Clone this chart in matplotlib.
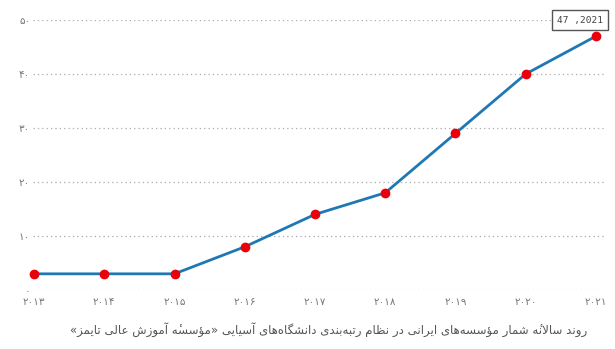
import matplotlib
matplotlib.use("Agg")
import matplotlib.pyplot as plt

# data
years = [2013, 2014, 2015, 2016, 2017, 2018, 2019, 2020, 2021]
counts = [3, 3, 3, 8, 14, 18, 29, 40, 47]
y_ticks = [0, 10, 20, 30, 40, 50]
caption = "روند سالانۀ شمار مؤسسه‌های ایرانی در نظام رتبه‌بندی دانشگاه‌های آسیایی «مؤسسۀ آموزش عالی تایمز»"
last_label = "47 ,2021"

# presentation forms: isolated, final, initial, medial
FORMS = {
    "ا": ("\uFE8D", "\uFE8E", None, None),
    "آ": ("\uFE81", "\uFE82", None, None),
    "د": ("\uFEA9", "\uFEAA", None, None),
    "ر": ("\uFEAD", "\uFEAE", None, None),
    "ز": ("\uFEAF", "\uFEB0", None, None),
    "و": ("\uFEED", "\uFEEE", None, None),
    "ؤ": ("\uFE85", "\uFE86", None, None),
    "ۀ": ("\uFEE9\u0654", "\uFEEA\u0654", None, None),  # heh + hamza above
    "ب": ("\uFE8F", "\uFE90", "\uFE91", "\uFE92"),
    "ت": ("\uFE95", "\uFE96", "\uFE97", "\uFE98"),
    "س": ("\uFEB1", "\uFEB2", "\uFEB3", "\uFEB4"),
    "ش": ("\uFEB5", "\uFEB6", "\uFEB7", "\uFEB8"),
    "ظ": ("\uFEC5", "\uFEC6", "\uFEC7", "\uFEC8"),
    "ع": ("\uFEC9", "\uFECA", "\uFECB", "\uFECC"),
    "ل": ("\uFEDD", "\uFEDE", "\uFEDF", "\uFEE0"),
    "م": ("\uFEE1", "\uFEE2", "\uFEE3", "\uFEE4"),
    "ن": ("\uFEE5", "\uFEE6", "\uFEE7", "\uFEE8"),
    "ه": ("\uFEE9", "\uFEEA", "\uFEEB", "\uFEEC"),
    "ی": ("\uFBFC", "\uFBFD", "\uFBFE", "\uFBFF"),
    "گ": ("\uFB92", "\uFB93", "\uFB94", "\uFB95"),
}
LAM_ALEF = {"ا": ("\uFEFB", "\uFEFC"), "آ": ("\uFEF5", "\uFEF6")}
MIRROR = {"«": "»", "»": "«"}


def dual(c):
    return c in FORMS and FORMS[c][2] is not None


def shape(text):
    # join letters, then reverse for right-to-left display
    out = []
    i = 0
    n = len(text)
    while i < n:
        c = text[i]
        if c not in FORMS:
            if c != "\u200c":
                out.append(MIRROR.get(c, c))
            i += 1
            continue
        prev = text[i - 1] if i > 0 else ""
        join_prev = dual(prev)
        if c == "ل" and i + 1 < n and text[i + 1] in LAM_ALEF:
            out.append(LAM_ALEF[text[i + 1]][1 if join_prev else 0])
            i += 2
            continue
        nxt = text[i + 1] if i + 1 < n else ""
        join_next = dual(c) and nxt in FORMS
        iso, fin, ini, med = FORMS[c]
        if join_prev and join_next:
            out.append(med)
        elif join_prev:
            out.append(fin)
        elif join_next:
            out.append(ini)
        else:
            out.append(iso)
        i += 1
    return "".join(reversed(out))


def fa_digits(s):
    return str(s).translate(str.maketrans("0123456789", "۰۱۲۳۴۵۶۷۸۹"))


fig = plt.figure(figsize=(6.15, 3.49), dpi=100)
ax = fig.add_axes([0.0537, 0.169, 0.93, 0.7738])

ax.plot(years, counts, color="#1f78b4", linewidth=2, zorder=2)
ax.scatter(years, counts, s=36, color="#e8000b", zorder=3, clip_on=False)

ax.set_xlim(2012.986, 2021.128)
ax.set_ylim(0, 50)
ax.set_yticks(y_ticks)
ax.set_yticklabels([fa_digits(v) for v in y_ticks])
ax.set_xticks(years)
ax.set_xticklabels([fa_digits(y) for y in years])
ax.tick_params(length=0, colors="#777777", labelsize=7.5)
ax.tick_params(axis="y", pad=2)
ax.tick_params(axis="x", pad=5)
ax.grid(axis="y", linestyle=(0, (1, 2.5)), color="#aaaaaa", linewidth=0.9)
for s in ax.spines.values():
    s.set_visible(False)

ax.annotate(last_label, (years[-1], counts[-1]), xytext=(-11.5, 11.5),
            textcoords="offset points", ha="center", va="center",
            family="DejaVu Sans Mono", fontsize=6.8, color="#444444",
            bbox=dict(boxstyle="square,pad=0.55", fc="white", ec="#555555", lw=1),
            annotation_clip=False)

fig.text(0.535, 0.055, shape(caption), ha="center", va="center",
         fontsize=8.5, color="#555555", family="DejaVu Sans")

fig.savefig("out.png", dpi=100)
